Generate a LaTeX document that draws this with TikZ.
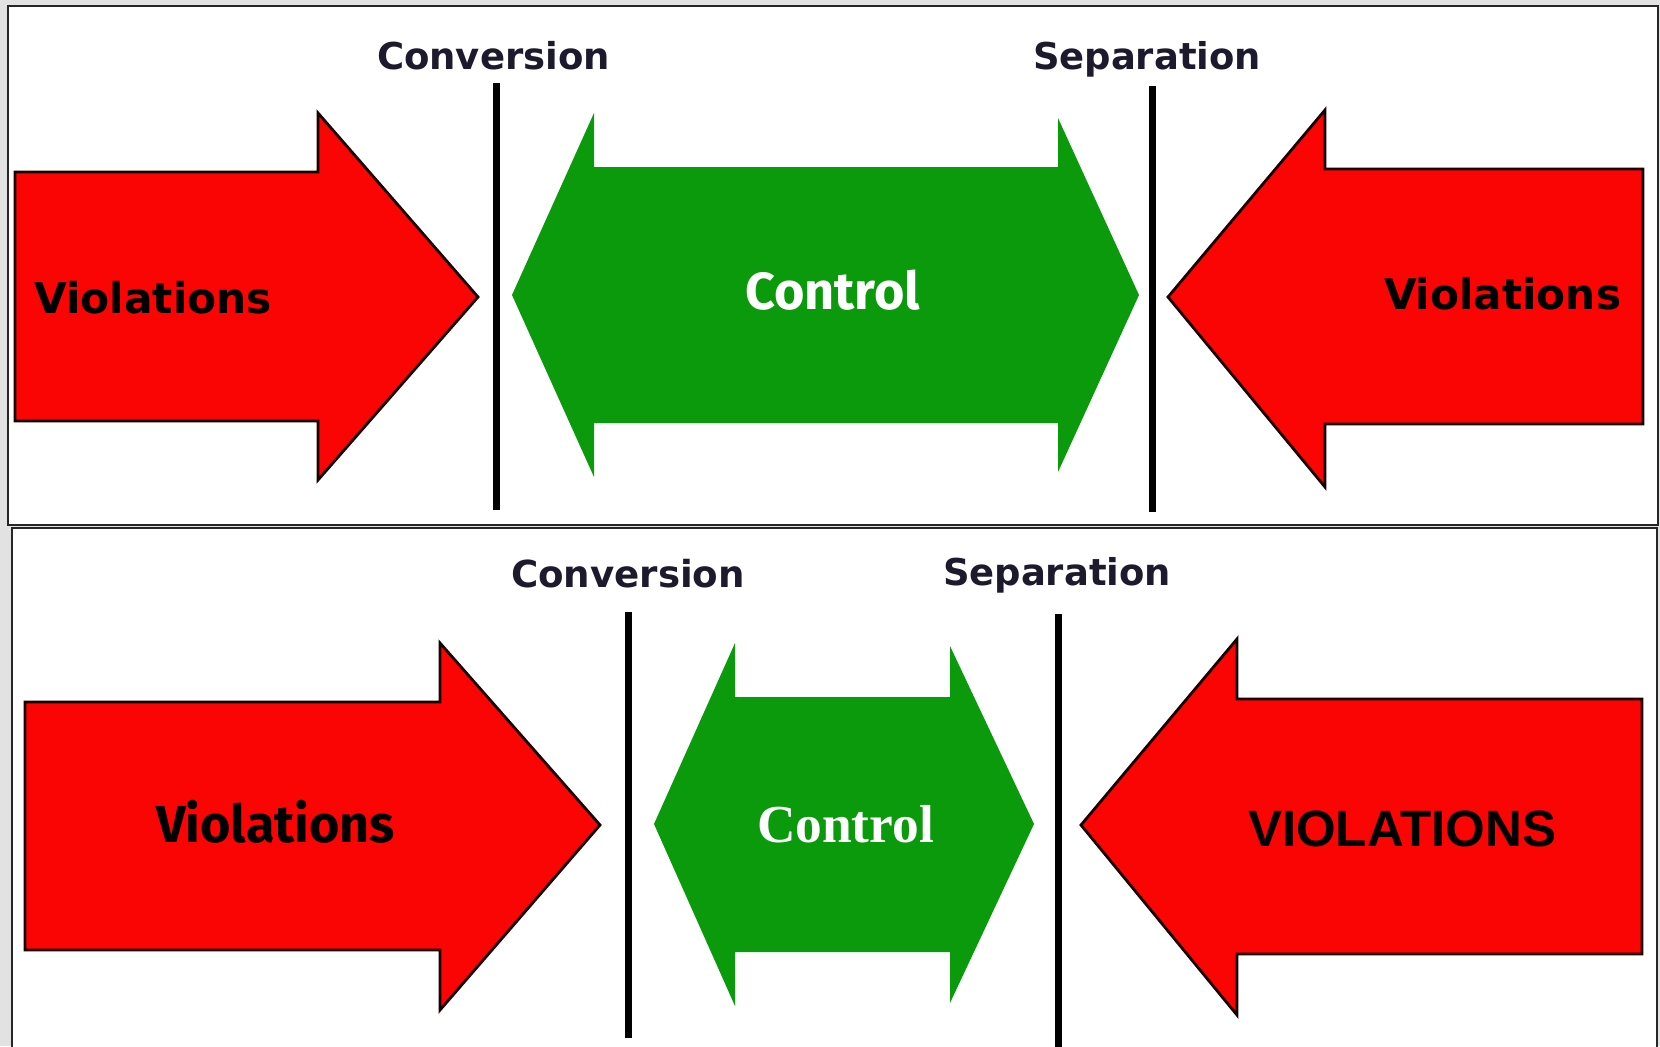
\documentclass[tikz,border=0pt]{standalone}
\usepackage{fontspec}
\usepackage{graphicx}
\newfontfamily\dejab{DejaVu Sans}[BoldFont=* Bold]
\newfontfamily\firab{Fira Sans}
\newfontfamily\libs{Liberation Sans}
\newfontfamily\libserif{Liberation Serif}
\newlength\pxu
\setlength\pxu{0.5pt}
\definecolor{vred}{RGB}{250,4,4}
\definecolor{vgreen}{RGB}{10,154,12}
\definecolor{lbl}{RGB}{28,26,44}
\definecolor{bg}{RGB}{226,226,226}
\tikzset{
  redarrow/.style={fill=vred, draw=black!90!red, line width=1.4pt, line join=miter},
  greenarrow/.style={fill=vgreen, draw=none},
  divider/.style={line width=3.5pt, black},
  panel/.style={fill=white, draw=black!85, line width=1.2pt},
  txt/.style={anchor=base west, inner sep=0pt, outer sep=0pt}
}
\begin{document}
\begin{tikzpicture}[x=0.5pt,y=-0.5pt]
\useasboundingbox (0,0) rectangle (1660,1046);
\clip (0,0) rectangle (1660,1046);
\fill[bg] (0,0) rectangle (1660,1046);
% panels
\draw[panel] (8,6) rectangle (1658,525);
\draw[panel] (12,528) rectangle (1657,1070);

% ---------- top panel ----------
\draw[redarrow] (15,172) -- (318,172) -- (318,113) -- (478,297) -- (318,480) -- (318,421) -- (15,421) -- cycle;
\draw[greenarrow, fill=vgreen] (512,295) -- (594,113) -- (594,167) -- (1058,167) -- (1058,118) -- (1139,295) -- (1058,472) -- (1058,423) -- (594,423) -- (594,477) -- cycle;
\draw[redarrow] (1168,297) -- (1325,110) -- (1325,169) -- (1643,169) -- (1643,424) -- (1325,424) -- (1325,487) -- cycle;
\coordinate (c1t) at (496,83); \coordinate (c1b) at (496,510);
\coordinate (s1t) at (1152,86); \coordinate (s1b) at (1152,512);
\draw[divider] (c1t) -- (c1b);
\draw[divider] (s1t) -- (s1b);
\node[txt, text=lbl] (conv1) at (377,69) {\resizebox{233\pxu}{!}{\dejab\bfseries Conversion}};
\node[txt, text=lbl] (sep1) at (1033,69) {\resizebox{228\pxu}{!}{\dejab\bfseries Separation}};
\node[txt, text=black] (viol1) at (34,313) {\resizebox{238\pxu}{!}{\dejab\bfseries Violations}};
\node[txt, text=white] (ctrl1) at (745,309) {\resizebox{175\pxu}{!}{\firab\bfseries Control}};
\node[txt, text=black] (viol2) at (1384,309) {\resizebox{237\pxu}{!}{\dejab\bfseries Violations}};

% ---------- bottom panel ----------
\draw[redarrow] (25,702) -- (440,702) -- (440,643) -- (600,825) -- (440,1010) -- (440,950) -- (25,950) -- cycle;
\draw[greenarrow, fill=vgreen] (654,824) -- (735,643) -- (735,697) -- (950,697) -- (950,646) -- (1034,824) -- (950,1003) -- (950,952) -- (735,952) -- (735,1006) -- cycle;
\draw[redarrow] (1081,825) -- (1237,639) -- (1237,699) -- (1642,699) -- (1642,954) -- (1237,954) -- (1237,1015) -- cycle;
\coordinate (c2t) at (628,612); \coordinate (c2b) at (628,1038);
\coordinate (s2t) at (1058,614); \coordinate (s2b) at (1058,1050);
\draw[divider] (c2t) -- (c2b);
\draw[divider] (s2t) -- (s2b);
\node[txt, text=lbl] (conv2) at (511,587) {\resizebox{234\pxu}{!}{\dejab\bfseries Conversion}};
\node[txt, text=lbl] (sep2) at (943,585) {\resizebox{228\pxu}{!}{\dejab\bfseries Separation}};
\node[txt, text=black] (viol3) at (156,842) {\resizebox{239\pxu}{!}{\firab\bfseries Violations}};
\node[txt, text=white] (ctrl2) at (757,842) {\resizebox{177\pxu}{!}{\libserif\bfseries Control}};
\node[txt, text=black] (viol4) at (1248,846) {\resizebox{308\pxu}{!}{\libs\bfseries VIOLATIONS}};
\end{tikzpicture}
\end{document}
